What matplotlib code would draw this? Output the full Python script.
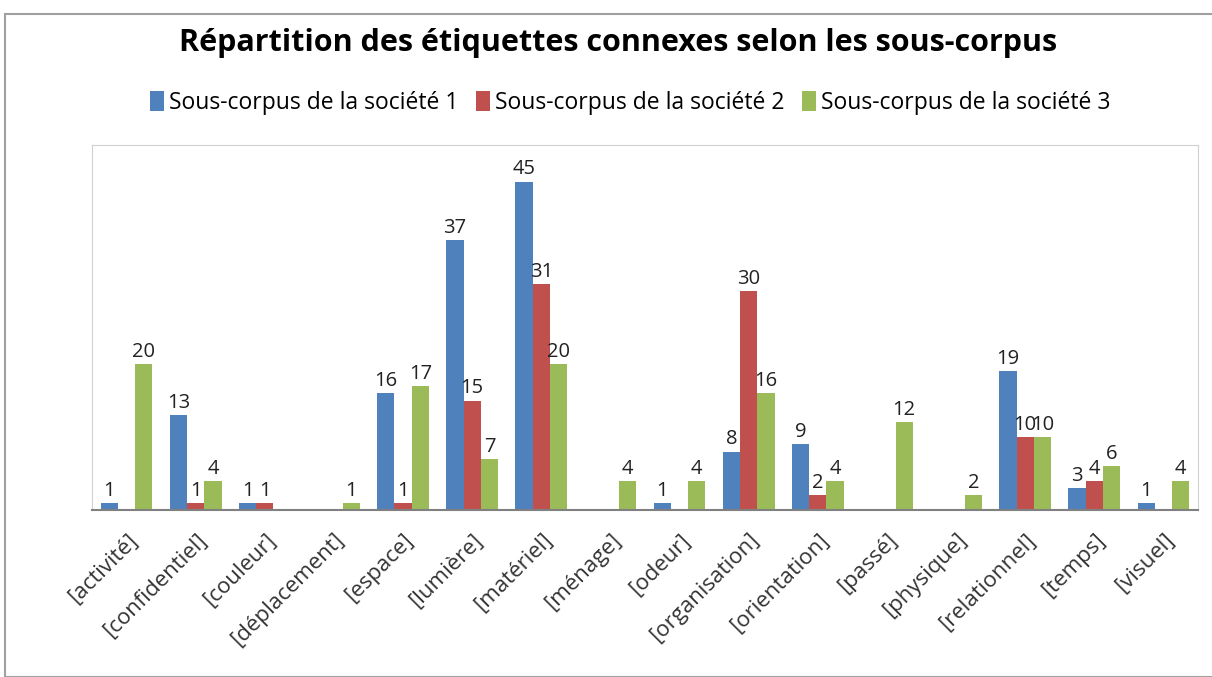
import numpy as np
import matplotlib.pyplot as plt
from matplotlib.patches import Rectangle

categories = ['[activité]', '[confidentiel]', '[couleur]', '[déplacement]', '[espace]',
              '[lumière]', '[matériel]', '[ménage]', '[odeur]', '[organisation]',
              '[orientation]', '[passé]', '[physique]', '[relationnel]', '[temps]', '[visuel]']
societe1 = [1, 13, 1, 0, 16, 37, 45, 0, 1, 8, 9, 0, 0, 19, 3, 1]
societe2 = [0, 1, 1, 0, 1, 15, 31, 0, 0, 30, 2, 0, 0, 10, 4, 0]
societe3 = [20, 4, 0, 1, 17, 7, 20, 4, 4, 16, 4, 12, 2, 10, 6, 4]
series_names = ['Sous-corpus de la société 1', 'Sous-corpus de la société 2', 'Sous-corpus de la société 3']
colors = ['#4f81bd', '#c0504d', '#9bbb59']

plt.rcParams['font.family'] = ['Open Sans', 'DejaVu Sans']

fig = plt.figure(figsize=(12.12, 6.77), dpi=100)
fig.patches.append(Rectangle((5/1212, 0), 1.0, 1 - 14/677, transform=fig.transFigure,
                             fill=False, edgecolor='#a0a0a0', linewidth=1.5))
ax = fig.add_axes([92/1212, 1 - 510/677, (1198-92)/1212, (510-145)/677])

x = np.arange(len(categories))
w = 0.25
for i, (vals, name, c) in enumerate(zip([societe1, societe2, societe3], series_names, colors)):
    pos = x + (i - 1) * w
    bars = ax.bar(pos, vals, width=w, color=c, label=name)
    for b, v in zip(bars, vals):
        if v > 0:
            ax.text(b.get_x() + b.get_width() / 2, v + 0.3, str(v), ha='center', va='bottom',
                    fontsize=14.5, color='#222222')

ax.set_xlim(-0.5, len(categories) - 0.5)
ax.set_ylim(0, 50)
ax.set_yticks([])
ax.set_xticks(x)
ax.set_xticklabels(categories, rotation=45, ha='right', rotation_mode='anchor', fontsize=16,
                   color='#333333')
ax.tick_params(axis='x', length=0, pad=14)
for s in ['top', 'right', 'left']:
    ax.spines[s].set_color('#d0d0d0')
ax.spines['bottom'].set_color('#808080')
ax.spines['bottom'].set_linewidth(1.5)

fig.text(0.51, 1 - 43/677, 'Répartition des étiquettes connexes selon les sous-corpus',
         ha='center', va='center', fontsize=22, fontweight='bold')
fig.legend(loc='center', bbox_to_anchor=(0.52, 1 - 103/677), ncol=3, frameon=False,
           fontsize=16.5, handlelength=0.6, handleheight=1.0, handletextpad=0.2, columnspacing=0.8)

fig.savefig('out.png', dpi=100)
